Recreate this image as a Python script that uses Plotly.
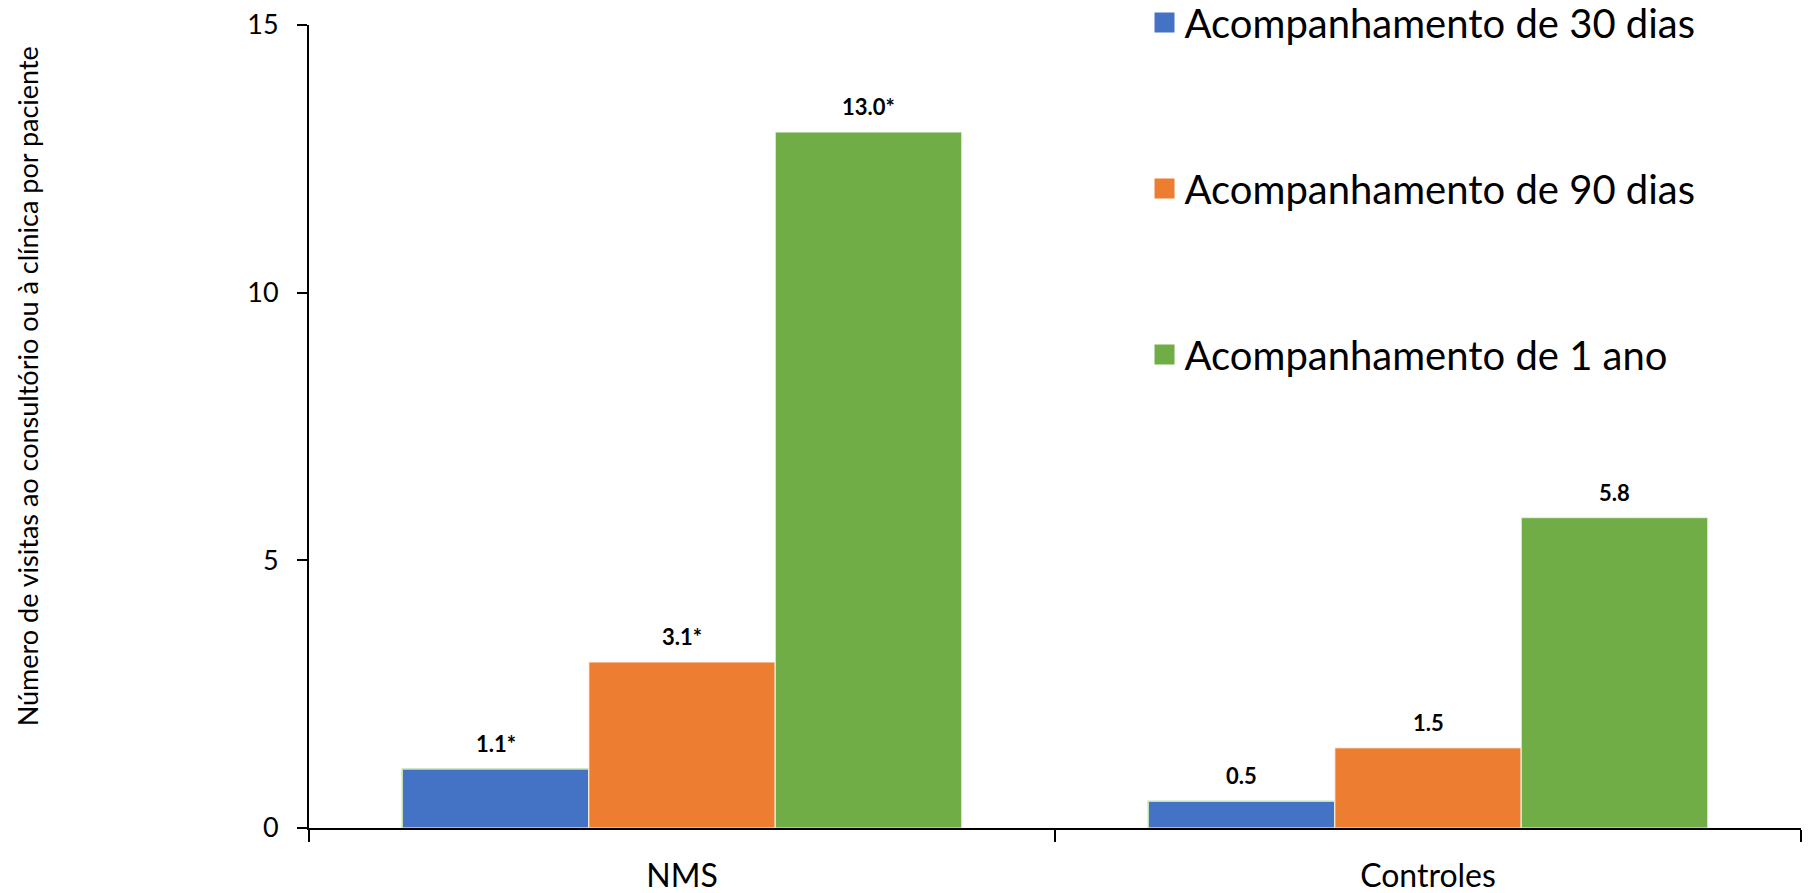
import plotly.graph_objects as go

# Grupos e séries
categorias = ["NMS", "Controles"]
series = ["Acompanhamento de 30 dias", "Acompanhamento de 90 dias", "Acompanhamento de 1 ano"]
valores_30d = [1.1, 0.5]
valores_90d = [3.1, 1.5]
valores_1a = [13.0, 5.8]
rotulos_30d = ["1.1*", "0.5"]
rotulos_90d = ["3.1*", "1.5"]
rotulos_1a = ["13.0*", "5.8"]

cores = ["#4472C4", "#ED7D31", "#70AD47"]
contornos = ["#C5E0B4", "rgba(255,255,255,0.6)", "rgba(255,255,255,0.6)"]
valores = [valores_30d, valores_90d, valores_1a]
rotulos = [rotulos_30d, rotulos_90d, rotulos_1a]

FONTE = "Lato, 'Open Sans', sans-serif"
BARGAP = 0.25
largura_barra = (1 - BARGAP) / len(series)

fig = go.Figure()

for nome, vals, cor, contorno in zip(series, valores, cores, contornos):
    fig.add_trace(go.Bar(
        x=categorias, y=vals, name=nome,
        marker=dict(color=cor, line=dict(color=contorno, width=1.5)),
        showlegend=False, hoverinfo="x+y",
    ))

# Entradas de legenda com quadrados maiores
for k, (nome, cor) in enumerate(zip(series, cores)):
    fig.add_trace(go.Scatter(
        x=[None], y=[None], mode="markers", name=nome,
        legendgroup=f"g{k}",
        marker=dict(symbol="square", size=16, color=cor,
                    line=dict(color=cor, width=4)),
    ))

# Rótulos de valor acima de cada barra
anotacoes = []
for j, (vals, txts) in enumerate(zip(valores, rotulos)):
    for i, (v, t) in enumerate(zip(vals, txts)):
        anotacoes.append(dict(
            x=i + (j - 1) * largura_barra, y=v, xref="x", yref="y",
            text=f"<b>{t}</b>", showarrow=False, yanchor="bottom",
            yshift=10, font=dict(family=FONTE, size=22, color="black"),
        ))

# Título do eixo vertical
anotacoes.append(dict(
    x=-0.189, y=0.55, xref="paper", yref="paper",
    text="Número de visitas ao consultório ou à clínica por paciente",
    textangle=-90, showarrow=False, xanchor="center", yanchor="middle",
    font=dict(family=FONTE, size=27, color="black"),
))

fig.update_layout(
    width=1808, height=893,
    margin=dict(l=309, r=7, t=25, b=65, autoexpand=False),
    paper_bgcolor="white", plot_bgcolor="white",
    barmode="group", bargap=BARGAP, bargroupgap=0,
    font=dict(family=FONTE, color="black"),
    annotations=anotacoes,
    legend=dict(
        x=0.560, y=1.0436, xanchor="left", yanchor="top",
        traceorder="grouped", tracegroupgap=111,
        font=dict(family=FONTE, size=40, color="black"),
        bgcolor="rgba(0,0,0,0)",
    ),
    xaxis=dict(
        type="category", tickson="boundaries", automargin=False,
        ticks="outside", ticklen=12, tickwidth=2, tickcolor="black",
        showline=True, linecolor="black", linewidth=2,
        showgrid=False, tickfont=dict(family=FONTE, size=32, color="black"),
        ticklabelstandoff=19, range=[-0.5, 1.5],
    ),
    yaxis=dict(
        range=[0, 15], tickvals=[0, 5, 10, 15], automargin=False,
        ticks="outside", ticklen=10, tickwidth=2, tickcolor="black",
        showline=True, linecolor="black", linewidth=2,
        showgrid=False, zeroline=False,
        tickfont=dict(family=FONTE, size=27, color="black"),
        ticklabelstandoff=13,
    ),
)

fig.write_html("out.html")
